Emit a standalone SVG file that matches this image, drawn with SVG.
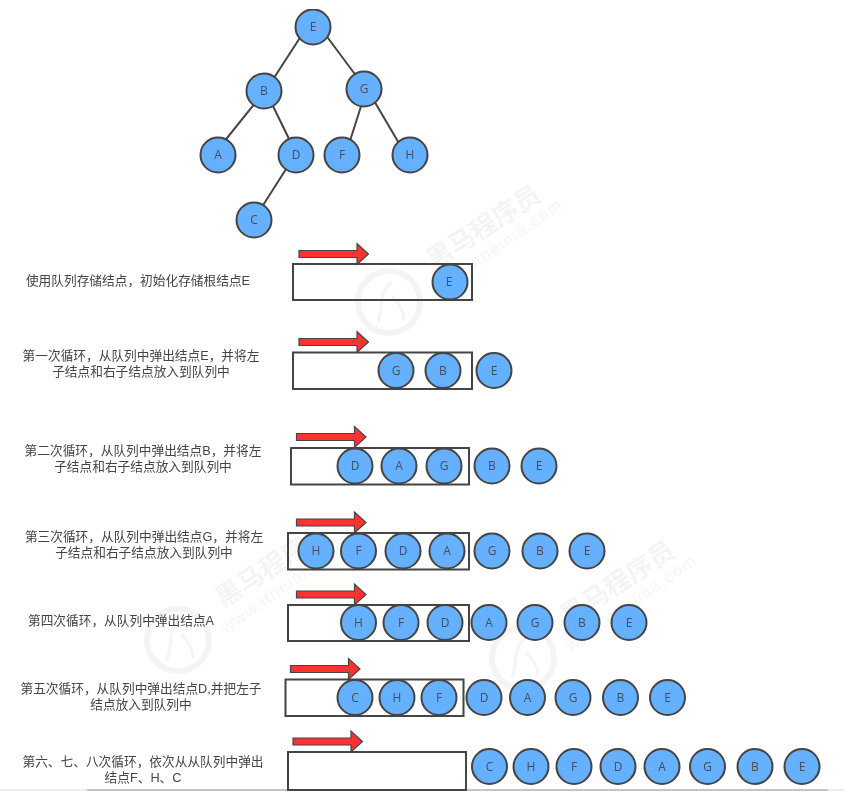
<svg xmlns="http://www.w3.org/2000/svg" xmlns:xlink="http://www.w3.org/1999/xlink" width="844" height="791" viewBox="0 0 844 791">
<style>
.n{fill:#66b1ff;stroke:#444;stroke-width:2}
.l{font:12px "Open Sans","Noto Sans",sans-serif;fill:#3f4f66;text-anchor:middle}
.t{font:12.700px "Liberation Sans","Noto Sans CJK SC",sans-serif;fill:#444;text-anchor:middle}
.c{stroke:#444;stroke-width:2;fill:none}
.q{fill:none;stroke:#444;stroke-width:2}
.a{fill:#ff3333;stroke:#444;stroke-width:1.2}
.wc{font:bold 26px "Noto Sans CJK SC",sans-serif;fill:#f4f4f4}
.wu{font:17px "Liberation Sans",sans-serif;fill:#f5f5f5}
.wr{fill:none;stroke:#f4f4f4;stroke-width:6}
</style>
<defs>
<filter id="soft" x="0" y="0" width="100%" height="100%"><feGaussianBlur stdDeviation="0.5"/></filter>
<path id="arrow" d="M0 -3.500H58V-10.500L69.500 0L58 10.500V3.500H0Z"/>
<g id="wm">
<circle class="wr" cx="389" cy="302" r="31"/>
<path d="M378 322C384 305 378 292 392 282M392 296C400 304 404 312 404 320" fill="none" stroke="#f5f5f5" stroke-width="3"/>
<text class="wc" transform="translate(434 270) rotate(-33)" textLength="130">黑马程序员</text>
<text class="wu" transform="translate(437 296) rotate(-35)" textLength="154">www.itheima.com</text>
</g>
</defs>
<rect width="844" height="791" fill="#fff"/>
<g filter="url(#soft)">
<g id="watermark">
<use xlink:href="#wm" href="#wm"/>
<use xlink:href="#wm" href="#wm" x="-211" y="338"/>
<use xlink:href="#wm" href="#wm" x="134" y="356"/>
</g>
<rect x="0" y="789" width="87" height="2" fill="#ececec"/>
<rect x="87" y="789" width="741" height="2" fill="#c4c4c4"/>
<rect x="828" y="789" width="16" height="2" fill="#ececec"/>
<g id="connectors">
<path class="c" d="M303 33L272 81M325 34L357 77M256 102L223 143M271 102L291 143M363 100L349 144M373 99L400 145M288 166L260 210"/>
</g>
<g id="tree">
<g id="tE"><circle class="n" cx="313" cy="27" r="17.500"/><text class="l" x="313" y="31">E</text></g>
<g id="tB"><circle class="n" cx="264" cy="91" r="17.500"/><text class="l" x="264" y="95">B</text></g>
<g id="tG"><circle class="n" cx="364" cy="89" r="17.500"/><text class="l" x="364" y="93">G</text></g>
<g id="tA"><circle class="n" cx="218" cy="155" r="17.500"/><text class="l" x="218" y="159">A</text></g>
<g id="tD"><circle class="n" cx="296" cy="155" r="17.500"/><text class="l" x="296" y="159">D</text></g>
<g id="tF"><circle class="n" cx="342" cy="155" r="17.500"/><text class="l" x="342" y="159">F</text></g>
<g id="tH"><circle class="n" cx="410" cy="155" r="17.500"/><text class="l" x="410" y="159">H</text></g>
<g id="tC"><circle class="n" cx="254" cy="220" r="17.500"/><text class="l" x="254" y="224">C</text></g>
</g>
<g id="labels">
<text class="t" x="138" y="285">使用队列存储结点，初始化存储根结点E</text>
<text class="t" x="141" y="360">第一次循环，从队列中弹出结点E，并将左</text>
<text class="t" x="141" y="376">子结点和右子结点放入到队列中</text>
<text class="t" x="143" y="455">第二次循环，从队列中弹出结点B，并将左</text>
<text class="t" x="143" y="471">子结点和右子结点放入到队列中</text>
<text class="t" x="144" y="541">第三次循环，从队列中弹出结点G，并将左</text>
<text class="t" x="144" y="557">子结点和右子结点放入到队列中</text>
<text class="t" x="121" y="625">第四次循环，从队列中弹出结点A</text>
<text class="t" x="141" y="693">第五次循环，从队列中弹出结点D,并把左子</text>
<text class="t" x="141" y="709">结点放入到队列中</text>
<text class="t" x="143" y="766">第六、七、八次循环，依次从从队列中弹出</text>
<text class="t" x="143" y="782">结点F、H、C</text>
</g>
<g id="row0">
<use class="a" href="#arrow" x="299" y="254"/><rect class="q" x="293" y="264" width="179" height="36"/>
<g id="r0E"><circle class="n" cx="450" cy="282" r="17.500"/><text class="l" x="449" y="286">E</text></g>
</g>
<g id="row1">
<use class="a" href="#arrow" x="299" y="342"/><rect class="q" x="293" y="352.500" width="179" height="36.500"/>
<g id="r1G"><circle class="n" cx="396" cy="370.500" r="17.500"/><text class="l" x="396" y="375">G</text></g>
<g id="r1B"><circle class="n" cx="443" cy="370.500" r="17.500"/><text class="l" x="443" y="375">B</text></g>
<g id="r1E"><circle class="n" cx="494" cy="370.500" r="17.500"/><text class="l" x="494" y="375">E</text></g>
</g>
<g id="row2">
<use class="a" href="#arrow" x="296.500" y="437"/><rect class="q" x="291" y="448" width="178" height="36.500"/>
<g id="r2D"><circle class="n" cx="355" cy="466" r="17.500"/><text class="l" x="355" y="470">D</text></g>
<g id="r2A"><circle class="n" cx="399" cy="466" r="17.500"/><text class="l" x="399" y="470">A</text></g>
<g id="r2G"><circle class="n" cx="444" cy="466" r="17.500"/><text class="l" x="444" y="470">G</text></g>
<g id="r2B"><circle class="n" cx="492" cy="466" r="17.500"/><text class="l" x="492" y="470">B</text></g>
<g id="r2E"><circle class="n" cx="539" cy="466" r="17.500"/><text class="l" x="539" y="470">E</text></g>
</g>
<g id="row3">
<use class="a" href="#arrow" x="296.500" y="522.500"/><rect class="q" x="288" y="533" width="181" height="36.500"/>
<g id="r3H"><circle class="n" cx="316" cy="551" r="17.500"/><text class="l" x="316" y="555">H</text></g>
<g id="r3F"><circle class="n" cx="358.500" cy="551" r="17.500"/><text class="l" x="358.500" y="555">F</text></g>
<g id="r3D"><circle class="n" cx="403" cy="551" r="17.500"/><text class="l" x="403" y="555">D</text></g>
<g id="r3A"><circle class="n" cx="447" cy="551" r="17.500"/><text class="l" x="447" y="555">A</text></g>
<g id="r3G"><circle class="n" cx="492" cy="551" r="17.500"/><text class="l" x="492" y="555">G</text></g>
<g id="r3B"><circle class="n" cx="540" cy="551" r="17.500"/><text class="l" x="540" y="555">B</text></g>
<g id="r3E"><circle class="n" cx="587" cy="551" r="17.500"/><text class="l" x="587" y="555">E</text></g>
</g>
<g id="row4">
<use class="a" href="#arrow" x="296.500" y="594.500"/><rect class="q" x="288" y="605" width="181" height="36"/>
<g id="r4H"><circle class="n" cx="358.500" cy="622.500" r="17.500"/><text class="l" x="358.500" y="627">H</text></g>
<g id="r4F"><circle class="n" cx="401" cy="622.500" r="17.500"/><text class="l" x="401" y="627">F</text></g>
<g id="r4D"><circle class="n" cx="445" cy="622.500" r="17.500"/><text class="l" x="445" y="627">D</text></g>
<g id="r4A"><circle class="n" cx="489" cy="622.500" r="17.500"/><text class="l" x="489" y="627">A</text></g>
<g id="r4G"><circle class="n" cx="535" cy="622.500" r="17.500"/><text class="l" x="535" y="627">G</text></g>
<g id="r4B"><circle class="n" cx="582" cy="622.500" r="17.500"/><text class="l" x="582" y="627">B</text></g>
<g id="r4E"><circle class="n" cx="629" cy="622.500" r="17.500"/><text class="l" x="629" y="627">E</text></g>
</g>
<g id="row5">
<use class="a" href="#arrow" x="290.500" y="669"/><rect class="q" x="285.500" y="679.500" width="178" height="36.500"/>
<g id="r5C"><circle class="n" cx="355" cy="697.500" r="17.500"/><text class="l" x="355" y="702">C</text></g>
<g id="r5H"><circle class="n" cx="397" cy="697.500" r="17.500"/><text class="l" x="397" y="702">H</text></g>
<g id="r5F"><circle class="n" cx="439" cy="697.500" r="17.500"/><text class="l" x="439" y="702">F</text></g>
<g id="r5D"><circle class="n" cx="484" cy="697.500" r="17.500"/><text class="l" x="484" y="702">D</text></g>
<g id="r5A"><circle class="n" cx="527.500" cy="697.500" r="17.500"/><text class="l" x="527.500" y="702">A</text></g>
<g id="r5G"><circle class="n" cx="573" cy="697.500" r="17.500"/><text class="l" x="573" y="702">G</text></g>
<g id="r5B"><circle class="n" cx="620.500" cy="697.500" r="17.500"/><text class="l" x="620.500" y="702">B</text></g>
<g id="r5E"><circle class="n" cx="667.500" cy="697.500" r="17.500"/><text class="l" x="667.500" y="702">E</text></g>
</g>
<g id="row6">
<use class="a" href="#arrow" x="293" y="741.500"/><rect class="q" x="288" y="752" width="178" height="38"/>
<g id="r6C"><circle class="n" cx="489.500" cy="766.500" r="17.500"/><text class="l" x="489.500" y="771">C</text></g>
<g id="r6H"><circle class="n" cx="531" cy="766.500" r="17.500"/><text class="l" x="531" y="771">H</text></g>
<g id="r6F"><circle class="n" cx="574" cy="766.500" r="17.500"/><text class="l" x="574" y="771">F</text></g>
<g id="r6D"><circle class="n" cx="618" cy="766.500" r="17.500"/><text class="l" x="618" y="771">D</text></g>
<g id="r6A"><circle class="n" cx="662" cy="766.500" r="17.500"/><text class="l" x="662" y="771">A</text></g>
<g id="r6G"><circle class="n" cx="707.500" cy="766.500" r="17.500"/><text class="l" x="707.500" y="771">G</text></g>
<g id="r6B"><circle class="n" cx="755" cy="766.500" r="17.500"/><text class="l" x="755" y="771">B</text></g>
<g id="r6E"><circle class="n" cx="802" cy="766.500" r="17.500"/><text class="l" x="802" y="771">E</text></g>
</g>
</g>
</svg>
